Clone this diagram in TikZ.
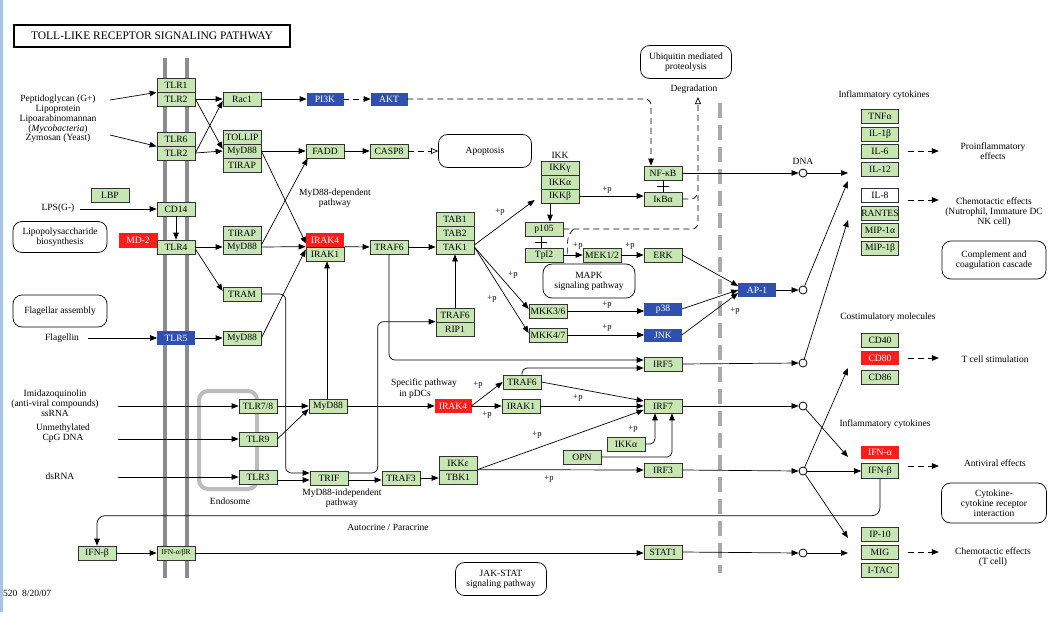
\documentclass[tikz,border=0pt]{standalone}
\usepackage{fontspec}
\setmainfont{Liberation Serif}
\usetikzlibrary{arrows.meta}
\definecolor{kgreen}{RGB}{200,230,180}
\definecolor{kblue}{RGB}{48,80,176}
\definecolor{kred}{RGB}{255,28,28}
\definecolor{kborder}{RGB}{50,50,50}
\definecolor{kmemb}{RGB}{140,140,140}
\definecolor{kendo}{RGB}{188,188,188}
\definecolor{kdash}{RGB}{170,170,170}
\definecolor{kleft}{RGB}{168,196,232}
\newcommand\kgfont{\fontsize{9.6}{10}\selectfont}
\newcommand\ksfont{\fontsize{7.5}{8}\selectfont}
\newcommand\ktfont{\fontsize{9.5}{10}\selectfont}
\newcommand\kpfont{\fontsize{8.5}{9}\selectfont}
\newcommand\kttfont{\fontsize{11.5}{12}\selectfont}
\begin{document}
\begin{tikzpicture}[x=1pt,y=-1pt,
  every node/.style={inner sep=0pt},
  gene/.style={draw=kborder, fill=kgreen, line width=0.7pt, minimum width=38pt, minimum height=14pt, font=\kgfont},
  bluegene/.style={gene, fill=kblue, draw=kblue, text=white, minimum width=36pt, minimum height=12pt},
  redgene/.style={gene, fill=kred, draw=kred, text=white, minimum width=37pt, minimum height=13pt},
  whitegene/.style={gene, fill=white},
  mapbox/.style={draw=black, line width=0.7pt, rounded corners=9pt, align=center, font=\ktfont},
  lbl/.style={font=\ktfont, align=center},
  plbl/.style={font=\kpfont},
  line/.style={draw=black, line width=0.7pt},
  arr/.style={line, -{Triangle[length=7pt,width=5.5pt]}},
  darr/.style={arr, dash pattern=on 6pt off 4pt},
  dline/.style={line, dash pattern=on 6pt off 4pt},
  odarr/.style={line, dash pattern=on 6pt off 4pt, -{Triangle[open,length=7pt,width=6pt]}},
  circ/.style={circle, draw=black, fill=white, line width=0.8pt, minimum size=8pt},
  memb/.style={line width=4pt, draw=kmemb},
]
\useasboundingbox (0,0) rectangle (1050,618);
\fill[white] (0,0) rectangle (1050,618);
\draw[line width=3pt, draw=kleft] (1.5,0) -- (1.5,612);

% membranes, endosome, divider
\draw[memb] (165,58) -- (165,578);
\draw[memb] (187,58) -- (187,578);
\draw[line width=4pt, draw=kendo, rounded corners=9pt] (199,391) rectangle (257,489);
\draw[line width=4.5pt, draw=kdash, dash pattern=on 15pt off 7pt] (720,103) -- (720,573);

% title
\node[draw=black, line width=1.2pt, minimum width=276pt, minimum height=22pt, font=\kttfont] (title) at (152,36) {TOLL-LIKE RECEPTOR SIGNALING PATHWAY};

% receptors
\node[gene] (tlr1) at (176,85) {TLR1};
\node[gene] (tlr2a) at (176,99) {TLR2};
\node[gene] (tlr6) at (176,139) {TLR6};
\node[gene] (tlr2b) at (176,153) {TLR2};
\node[gene] (lbp) at (110,195) {LBP};
\node[gene] (cd14) at (176,209) {CD14};
\node[redgene, minimum width=38pt, minimum height=14pt] (md2) at (138,240) {MD-2};
\node[gene] (tlr4) at (176,247) {TLR4};
\node[bluegene, minimum width=37pt, minimum height=13pt] (tlr5) at (176,338) {TLR5};
\node[gene] (tlr78) at (258,406) {TLR7/8};
\node[gene] (tlr9) at (258,439) {TLR9};
\node[gene] (tlr3) at (258,477) {TLR3};
\node[gene] (ifnb1) at (97,553) {IFN-β};
\node[gene, font=\ksfont] (ifnr) at (176,553) {IFN-α/βR};

% adaptors
\node[gene] (rac1) at (242,99) {Rac1};
\node[bluegene] (pi3k) at (325,99) {PI3K};
\node[bluegene] (akt) at (389,99) {AKT};
\node[gene] (tollip) at (242,137) {TOLLIP};
\node[gene] (myd88a) at (242,151) {MyD88};
\node[gene] (tirapa) at (242,165) {TIRAP};
\node[gene] (fadd) at (325,151) {FADD};
\node[gene] (casp8) at (389,151) {CASP8};
\node[gene] (tirapb) at (242,233) {TIRAP};
\node[gene] (myd88b) at (242,247) {MyD88};
\node[redgene] (irak4a) at (325,240) {IRAK4};
\node[gene] (irak1a) at (325,254) {IRAK1};
\node[gene] (tram) at (242,294) {TRAM};
\node[gene] (myd88c) at (242,338) {MyD88};
\node[gene] (traf6a) at (389,247) {TRAF6};
\node[gene] (tab1) at (455,219) {TAB1};
\node[gene] (tab2) at (455,233) {TAB2};
\node[gene] (tak1) at (455,247) {TAK1};
\node[gene] (traf6b) at (455,315) {TRAF6};
\node[gene] (rip1) at (455,329) {RIP1};
\node[lbl] (ikklbl) at (560,155) {IKK};
\node[gene] (ikkg) at (560,168) {IKKγ};
\node[gene] (ikka) at (560,182) {IKKα};
\node[gene] (ikkb) at (560,196) {IKKβ};
\node[gene] (nfkb) at (663,173) {NF-κB};
\node[gene] (ikba) at (663,199) {IκBα};
\node[gene] (p105) at (544,229) {p105};
\node[gene] (tpl2) at (544,255) {Tpl2};
\node[gene] (mek) at (602,255) {MEK1/2};
\node[gene] (erk) at (663,255) {ERK};
\node[gene] (mkk36) at (548,311) {MKK3/6};
\node[gene] (mkk47) at (548,335) {MKK4/7};
\node[bluegene, minimum width=37pt] (p38) at (663,309) {p38};
\node[bluegene, minimum width=37pt] (jnk) at (663,335) {JNK};
\node[bluegene, minimum width=37pt, minimum height=13pt] (ap1) at (757,290) {AP-1};
\node[gene] (irf5) at (663,364) {IRF5};
\node[gene] (traf6c) at (522,382) {TRAF6};
\node[redgene, minimum width=36pt] (irak4b) at (453,406) {IRAK4};
\node[gene] (irak1b) at (521,406) {IRAK1};
\node[gene] (irf7) at (663,406) {IRF7};
\node[gene] (myd88d) at (328,406) {MyD88};
\node[gene] (trif) at (329,478) {TRIF};
\node[gene] (traf3) at (401,478) {TRAF3};
\node[gene] (ikke) at (458,463) {IKKε};
\node[gene] (tbk1) at (458,477) {TBK1};
\node[gene] (ikkal) at (626,444) {IKKα};
\node[gene] (opn) at (582,457) {OPN};
\node[gene] (irf3) at (663,470) {IRF3};
\node[gene] (stat1) at (663,552) {STAT1};

% outputs
\node[gene, minimum width=37pt] (tnf) at (880,116) {TNFα};
\node[gene, minimum width=37pt] (il1b) at (880,134) {IL-1β};
\node[gene, minimum width=37pt] (il6) at (880,151) {IL-6};
\node[gene, minimum width=37pt] (il12) at (880,169) {IL-12};
\node[whitegene, minimum width=37pt] (il8) at (880,195) {IL-8};
\node[gene, minimum width=37pt] (rantes) at (880,213) {RANTES};
\node[gene, minimum width=37pt] (mip1a) at (880,230) {MIP-1α};
\node[gene, minimum width=37pt] (mip1b) at (880,248) {MIP-1β};
\node[gene, minimum width=37pt] (cd40) at (880,340) {CD40};
\node[redgene] (cd80) at (880,358) {CD80};
\node[gene, minimum width=37pt] (cd86) at (880,377) {CD86};
\node[redgene, minimum height=12pt] (ifna) at (880,452) {IFN-α};
\node[gene, minimum width=37pt, minimum height=15pt] (ifnb2) at (880,471) {IFN-β};
\node[gene, minimum width=37pt] (ip10) at (880,534) {IP-10};
\node[gene, minimum width=37pt] (mig) at (880,552) {MIG};
\node[gene, minimum width=37pt] (itac) at (880,570) {I-TAC};

% circles
\node[circ] (c1) at (803,173) {};
\node[circ] (c2) at (803,290) {};
\node[circ] (c3) at (803,363) {};
\node[circ] (c4) at (803,406) {};
\node[circ] (c5) at (803,471) {};
\node[circ] (c6) at (803,553) {};

% map boxes
\node[mapbox, minimum width=93pt, minimum height=33pt] (apop) at (485,151) {Apoptosis};
\node[mapbox, minimum width=91pt, minimum height=33pt] (ubiq) at (686,62) {Ubiquitin mediated\\proteolysis};
\node[mapbox, minimum width=94pt, minimum height=31pt] (lpsb) at (60,237) {Lipopolysaccharide\\biosynthesis};
\node[mapbox, minimum width=94pt, minimum height=32pt] (flag) at (60,311) {Flagellar assembly};
\node[mapbox, minimum width=92pt, minimum height=34pt] (mapk) at (589,281) {MAPK\\signaling pathway};
\node[mapbox, minimum width=104pt, minimum height=38pt] (compl) at (994,260) {Complement and\\coagulation cascade};
\node[mapbox, minimum width=105pt, minimum height=40pt] (cyto) at (994,503) {Cytokine-\\cytokine receptor\\interaction};
\node[mapbox, minimum width=91pt, minimum height=33pt] (jak) at (501,579) {JAK-STAT\\signaling pathway};

% text labels
\node[lbl, font=\fontsize{9.5}{9.8}\selectfont] (pgtxt) at (58,119) {Peptidoglycan (G+)\\Lipoprotein\\Lipoarabinomannan\\(\textit{Mycobacteria})\\Zymosan (Yeast)};
\node[lbl] (lpstxt) at (58,208) {LPS(G-)};
\node[lbl] (fltxt) at (62,338) {Flagellin};
\node[lbl] (sstxt) at (55,403) {Imidazoquinolin\\(anti-viral compounds)\\ssRNA};
\node[lbl] (cpgtxt) at (63,433) {Unmethylated\\CpG DNA};
\node[lbl] (dstxt) at (60,476) {dsRNA};
\node[lbl] (endotxt) at (230,501) {Endosome};
\node[lbl] (mdep) at (335,198) {MyD88-dependent\\pathway};
\node[lbl] (mindep) at (342,498) {MyD88-independent\\pathway};
\node[lbl] (spec1) at (424,383) {Specific pathway};
\node[lbl] (spec2) at (415,394) {in pDCs};
\node[lbl] (degl) at (694,89) {Degradation};
\node[lbl] (dnal) at (803,161) {DNA};
\node[lbl] (infl1) at (884,95) {Inflammatory cytokines};
\node[lbl] (infl2) at (885,424) {Inflammatory cytokines};
\node[lbl] (costim) at (888,317) {Costimulatory molecules};
\node[lbl] (proinf) at (993,151) {Proinflammatory\\effects};
\node[lbl] (chemo1) at (994,212) {Chemotactic effects\\(Nutrophil, Immature DC\\NK cell)};
\node[lbl] (tcell) at (995,359) {T cell stimulation};
\node[lbl] (antiv) at (995,463) {Antiviral effects};
\node[lbl] (chemo2) at (993,557) {Chemotactic effects\\(T cell)};
\node[lbl] (autoc) at (388,527) {Autocrine / Paracrine};
\node[lbl, anchor=west] (datel) at (3,593) {520\ \ 8/20/07};

\foreach \n/\x/\y in {p1/500/212, p2/607/190, p3/578/246, p4/630/246, p5/513/275, p6/492/299, p7/607/305, p8/607/328, p9/735/311, p10/478/385, p11/487/415, p12/578/398, p13/537/435, p14/633/429, p15/549/479}
  \node[plbl] (\n) at (\x,\y) {+p};

% coordinates for free ends
\coordinate (pg1) at (110,100);
\coordinate (pg2) at (110,135);
\coordinate (lpsc) at (80,209);
\coordinate (flc) at (88,338);
\coordinate (ssc) at (118,406);
\coordinate (cpgc) at (118,439);
\coordinate (dsc) at (118,477);
\coordinate (degr) at (698,97);
\coordinate (g1) at (848,173);
\coordinate (g2) at (848,181);
\coordinate (g3) at (848,220);
\coordinate (g4) at (848,368);
\coordinate (g5) at (848,457);
\coordinate (g6) at (848,538);
\coordinate (g7) at (848,553);

% connectors: ligands
\draw[arr] (pg1) -- (tlr1.south west);
\draw[arr] (pg2) -- (tlr6.south west);
\draw[arr] (lpsc) -- (cd14.west);
\draw[arr] (flc) -- (tlr5.west);
\draw[arr] (ssc) -- (tlr78.west);
\draw[arr] (cpgc) -- (tlr9.west);
\draw[arr] (dsc) -- (tlr3.west);

% TLR2 module
\draw[arr] (tlr2a.east) -- (rac1.west);
\draw[arr] (tlr2a.east) -- ([yshift=2pt]myd88a.west);
\draw[arr] (tlr2b.east) -- ([yshift=-2pt]rac1.west);
\draw[arr] (tlr2b.east) -- (myd88a.west);
\draw[arr] (rac1) -- (pi3k);
\draw[darr] (pi3k) -- (akt);
\draw[darr, rounded corners=6pt] (akt.east) -| ([xshift=-12pt]nfkb.north);
\draw[arr] (myd88a) -- (fadd);
\draw[arr] (fadd) -- (casp8);
\draw[odarr] (casp8) -- (apop);
\draw[arr] (myd88a.east) -- ([yshift=3pt]irak4a.south west);

% TLR4 module
\draw[arr] (cd14.south) -- (tlr4.north);
\draw[arr] (tlr4.east) -- (myd88b.west);
\draw[arr] ([yshift=-2pt]tlr4.east) -- ([yshift=3pt]tram.west);
\draw[arr] (myd88b.east) -- (irak1a.north west);
\draw[arr] ([yshift=2pt]myd88b.east) -- ([xshift=2pt]fadd.south west);
\draw[arr] (tlr5) -- (myd88c);
\draw[arr] (myd88c.east) -- ([yshift=-3pt]irak1a.north west);
\draw[arr] (irak1a.north east) -- (traf6a.west);
\draw[arr] (traf6a) -- (tak1);
\draw[arr] ([yshift=2pt]tak1.east) -- ([xshift=-6pt,yshift=-4pt]ikkb.west);
\draw[arr] (tak1.east) -- ([yshift=2pt]mkk36.west);
\draw[arr] (tak1.east) -- ([yshift=2pt]mkk47.west);
\draw[arr] (traf6b.north) -- (tak1.south);
\draw[arr] ([xshift=-10pt]ikkb.south) -- ([xshift=-10pt]ikkb.south |- p105.north);
\draw[arr] (ikkb.east) -- (ikkb.east -| ikba.west);
\draw[line] (nfkb.south) -- (ikba.north);
\draw[line] ([xshift=-6pt,yshift=-6pt]nfkb.south) -- ([xshift=6pt,yshift=-6pt]nfkb.south);
\draw[line] ([xshift=-3pt]p105.south) -- ([xshift=-3pt]tpl2.north);
\draw[line] ([xshift=-9pt,yshift=-6pt]p105.south) -- ([xshift=3pt,yshift=-6pt]p105.south);
\draw[arr] (tpl2) -- (mek);
\draw[arr] (mek) -- (erk);
\draw[arr] (mkk36) -- (mkk36 -| p38.west);
\draw[arr] (mkk47) -- (mkk47 -| jnk.west);
\draw[arr] (erk.east) -- ([yshift=4pt]ap1.west);
\draw[arr] (p38.east) -- (ap1.west);
\draw[arr] (jnk.east) -- ([yshift=-3pt]ap1.west);

% degradation
\draw[odarr, rounded corners=6pt] (p105.east) -| (degr);
\draw[dline] ([xshift=10pt]p105.east) .. controls ([xshift=4pt,yshift=-8pt]p105.east) .. ([xshift=4pt]tpl2.east);
\draw[dline] (ikba.east) .. controls ([xshift=13pt]ikba.east) .. ([xshift=15pt,yshift=6pt]ikba.east);

% IRF5 and pDC pathway
\draw[arr, rounded corners=6pt] (traf6a.south) |- ([yshift=4pt]irf5.west);
\draw[arr, rounded corners=5pt] (traf6c.north) |- ([yshift=-4pt]irf5.west);
\draw[arr] (traf6c.east) -- ([yshift=5pt]irf7.west);
\draw[arr] (tlr78) -- (myd88d);
\draw[arr] (tlr9.east) -- ([yshift=-3pt]myd88d.west);
\draw[arr] ([xshift=-1pt]myd88d.north) -- ([xshift=-1pt]myd88d.north |- irak1a.south);
\draw[arr] (myd88d) -- (irak4b);
\draw[arr] (irak4b) -- (irak1b);
\draw[arr] (irak4b.east) -- (traf6c.west);
\draw[arr] (irak1b) -- (irf7);

% MyD88-independent
\draw[arr, rounded corners=6pt] (tram.east) -| ([xshift=-24pt,yshift=5pt]trif.west) -- ([yshift=5pt]trif.west);
\draw[arr] ([yshift=-3pt]tlr3.east) -- ([yshift=-3pt]tlr3.east -| trif.west);
\draw[arr, rounded corners=6pt] ([yshift=5pt]trif.east) -| ([xshift=-58pt]rip1.north west) -- (rip1.north west);
\draw[arr] ([yshift=-2pt]trif.east) -- ([yshift=-2pt]traf3.west);
\draw[arr] (traf3.east) -- (traf3.east -| tbk1.west);
\draw[arr] (tbk1.north east) -- ([yshift=-4pt]irf7.west);
\draw[arr] (tbk1.north east) -- (irf3.west);
\draw[arr, rounded corners=5pt] (ikkal.east) -| ([xshift=-8pt]irf7.south);
\draw[arr, rounded corners=5pt] (opn.east) -| ([xshift=9pt]irf7.south);

% to nucleus
\draw[arr] (nfkb.east) -- (c1.west);
\draw[arr] (ap1.east) -- (c2.west);
\draw[arr] (irf5.east) -- (c3.west);
\draw[arr] (irf7.east) -- (c4.west);
\draw[arr] (irf3.east) -- (c5.west);
\draw[arr] (stat1.east) -- (c6.west);
\draw[arr] (c1.east) -- (g1);
\draw[arr] (c2) -- (g2);
\draw[arr] (c3) -- (g3);
\draw[arr] (c5) -- (g4);
\draw[arr] (c4) -- (g5);
\draw[arr] (c5.east) -- (ifnb2.west);
\draw[arr] (c5) -- (g6);
\draw[arr] (c6.east) -- (g7);

% feedback
\draw[arr, rounded corners=8pt] (ifnb2.south) |- ([yshift=30pt]ifnb1.north) -- (ifnb1.north);
\draw[arr] (ifnb1) -- (ifnr);
\draw[arr] (ifnr.east) -- (ifnr.east -| stat1.west);

% effects
\draw[darr] ([xshift=9pt]il6.east) -- ([xshift=40pt]il6.east);
\draw[darr] ([xshift=9pt,yshift=-5pt]il8.east) -- ([xshift=40pt,yshift=-5pt]il8.east);
\draw[darr] ([xshift=9pt]cd80.east) -- ([xshift=40pt]cd80.east);
\draw[darr] ([xshift=9pt,yshift=5pt]ifnb2.east) -- ([xshift=40pt,yshift=5pt]ifnb2.east);
\draw[darr] ([xshift=9pt]mig.east) -- ([xshift=40pt]mig.east);
\end{tikzpicture}
\end{document}
